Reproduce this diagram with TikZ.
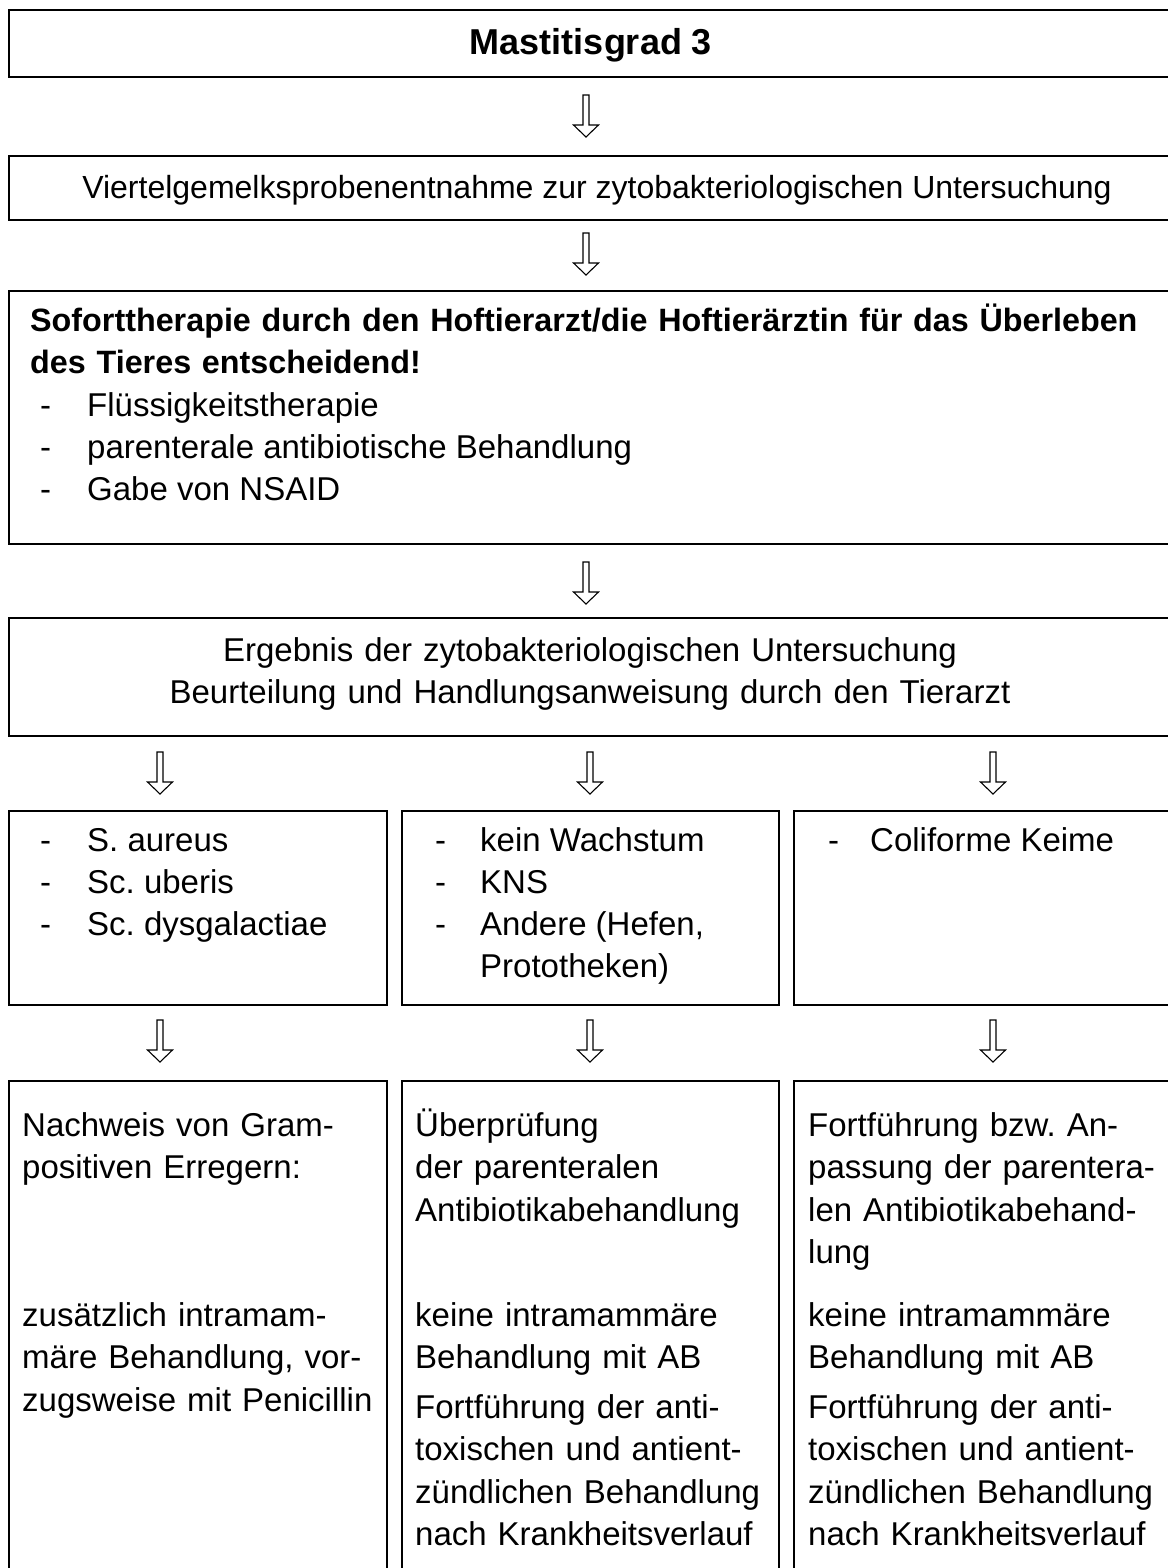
\documentclass[tikz,border=0pt]{standalone}
\usepackage{fontspec}
\setmainfont{Liberation Sans}
\frenchspacing

\tikzset{
	box/.style={draw, line width=1.8pt, anchor=north west, inner sep=0pt},
	txt/.style={anchor=base west, inner sep=0pt, font=\fontsize{33}{42.5}\selectfont},
	hollowdown/.pic={\draw[line width=1.1pt] (-3,0) -- (-3,30) -- (-12.5,30) -- (0,42) -- (12.5,30) -- (3,30) -- (3,0) -- cycle;}
}

\begin{document}
\begin{tikzpicture}[x=1pt, y=-1pt]
	    \useasboundingbox (0,0) rectangle (1167,1568);

	    \node[box, minimum width=1166, minimum height=67] (grad) at (8,9) {};
	    \node[box, minimum width=1166, minimum height=64] (probe) at (8,155) {};
	    \node[box, minimum width=1166, minimum height=253] (sofort) at (8,290) {};
	    \node[box, minimum width=1166, minimum height=118] (ergebnis) at (8,617) {};
	    \node[box, minimum width=378, minimum height=194] (keimA) at (8,810) {};
	    \node[box, minimum width=377, minimum height=194] (keimB) at (401,810) {};
	    \node[box, minimum width=381, minimum height=194] (keimC) at (793,810) {};
	    \node[box, minimum width=378, minimum height=520] (massA) at (8,1080) {};
	    \node[box, minimum width=377, minimum height=520] (massB) at (401,1080) {};
	    \node[box, minimum width=381, minimum height=520] (massC) at (793,1080) {};

	    \foreach \x/\y in {586/95, 586/233, 586/562, 160/752, 590/752, 993/752, 160/1020, 590/1020, 993/1020}
		\pic at (\x,\y) {hollowdown};

	    \node[txt, anchor=base, font=\fontsize{36}{42}\selectfont\bfseries] (gradtext) at (591,55) {Mastitisgrad 3};
	    \node[txt, anchor=base, font=\fontsize{32}{42}\selectfont] (probetext) at (597,198) {Viertelgemelksprobenentnahme zur zytobakteriologischen Untersuchung};

	    \node[txt, text width=1140, align=left, font=\fontsize{32.3}{42}\selectfont\bfseries] (soforttext) at (30,331)
		{Soforttherapie durch den Hoftierarzt/die Hoftierärztin für das Überleben\\des Tieres entscheidend!};
	    \foreach \t [count=\i] in {Flüssigkeitstherapie, parenterale antibiotische Behandlung, Gabe von NSAID} {
		\node[txt] (sd\i) at (40,{374+42*\i}) {-};
		\node[txt] (st\i) at (87,{374+42*\i}) {\t};
	    }

	    \node[txt, anchor=base, text width=1100, align=center] (ergebnistext) at (590,661)
		{Ergebnis der zytobakteriologischen Untersuchung\\Beurteilung und Handlungsanweisung durch den Tierarzt};

	    \foreach \t [count=\i] in {S. aureus, Sc. uberis, Sc. dysgalactiae} {
		\node[txt] (ad\i) at (40,{809+42*\i}) {-};
		\node[txt] (at\i) at (87,{809+42*\i}) {\t};
	    }
	    \foreach \t [count=\i] in {kein Wachstum, KNS, {Andere (Hefen,}} {
		\node[txt] (bd\i) at (435,{809+42*\i}) {-};
		\node[txt] (bt\i) at (480,{809+42*\i}) {\t};
	    }
	    \node[txt] (bt4) at (480,977) {Prototheken)};
	    \node[txt] (cd1) at (828,851) {-};
	    \node[txt] (ct1) at (870,851) {Coliforme Keime};

	    \node[txt, text width=360, align=left] (nachweis) at (22,1136) {Nachweis von Gram-\\positiven Erregern:};
	    \node[txt, text width=360, align=left] (zusatz) at (22,1326) {zusätzlich intramam-\\märe Behandlung, vor-\\zugsweise mit Penicillin};

	    \node[txt, text width=360, align=left] (pruefung) at (415,1136) {Überprüfung\\der parenteralen\\Antibiotikabehandlung};
	    \node[txt, text width=360, align=left] (keineB) at (415,1326) {keine intramammäre\\Behandlung mit AB};
	    \node[txt, text width=360, align=left] (fortB) at (415,1418) {Fortführung der anti-\\toxischen und antient-\\zündlichen Behandlung\\nach Krankheitsverlauf};

	    \node[txt, text width=360, align=left] (anpassung) at (808,1136) {Fortführung bzw. An-\\passung der parentera-\\len Antibiotikabehand-\\lung};
	    \node[txt, text width=360, align=left] (keineC) at (808,1326) {keine intramammäre\\Behandlung mit AB};
	    \node[txt, text width=360, align=left] (fortC) at (808,1418) {Fortführung der anti-\\toxischen und antient-\\zündlichen Behandlung\\nach Krankheitsverlauf};
	\end{tikzpicture}
\end{document}
